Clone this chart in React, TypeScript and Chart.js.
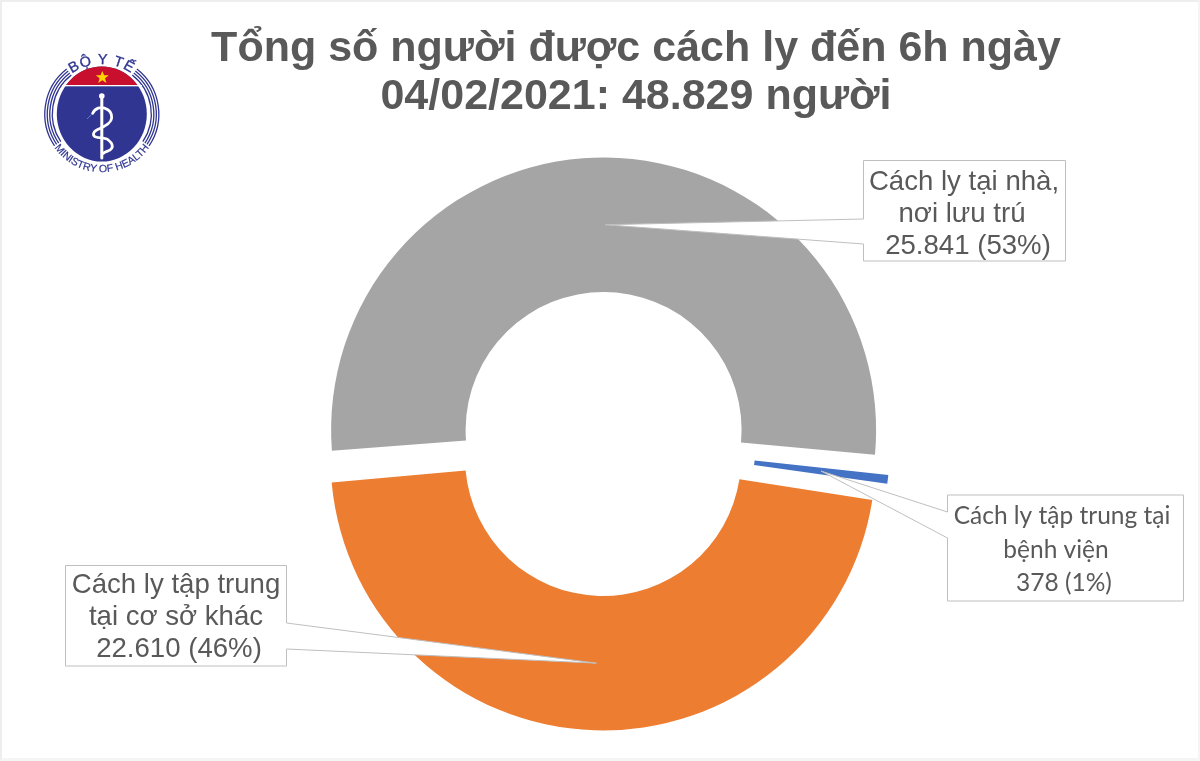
import React, { useEffect, useRef } from "react";
import { Chart, registerables } from "chart.js";

Chart.register(...registerables);

const categories = ["Cách ly tập trung tại bệnh viện", "Cách ly tập trung tại cơ sở khác", "Cách ly tại nhà, nơi lưu trú"];
const values = [378, 22610, 25841];
const sliceColors = ["#4472C4", "#ED7D31", "#A5A5A5"];
const titleLines = ["Tổng số người được cách ly đến 6h ngày", "04/02/2021: 48.829 người"];

const blueLines = ["Cách ly tập trung tại", "bệnh viện", "378 (1%)"];
const orangeLines = ["Cách ly tập trung", "tại cơ sở khác", "22.610 (46%)"];
const grayLines = ["Cách ly tại nhà,", "nơi lưu trú", "25.841 (53%)"];

const TEXT = "#595959";
// Chart.js moves an exploded arc by offset/4 and grows it by offset/4 times a
// factor that depends on the sweep; the layout radii below are the drawn ones.
const OFFSET = 56;
const SHIFT = OFFSET / 4;
const RADIUS = 272.5;
const HOLE = 138;

type Callout = {
  index: number; lines: string[]; font: string;
  box: [number, number, number, number];
  side: "left" | "right"; attach: [number, number];
  xs: number[]; ys: number[];
};

const callouts: Callout[] = [
  { index: 0, lines: blueLines, font: "24.5px Lato", box: [947.5, 495, 1183.5, 601], side: "left", attach: [512, 538],
    xs: [1062, 1056, 1064], ys: [524, 558, 591] },
  { index: 1, lines: orangeLines, font: "27.6px 'Liberation Sans'", box: [65.5, 565.5, 286.5, 666], side: "right", attach: [623, 649],
    xs: [176, 176, 179], ys: [593, 625, 657] },
  { index: 2, lines: grayLines, font: "27.6px 'Liberation Sans'", box: [863.5, 160.5, 1065.5, 261], side: "left", attach: [219, 244],
    xs: [964, 962, 968], ys: [190, 222, 254] },
];

const calloutPlugin = {
  id: "callouts",
  afterLayout(chart: any) {
    chart.titleBlock.left = 72;
    chart.titleBlock.right = 1200;
  },
  afterDatasetsUpdate(chart: any) {
    for (const arc of chart.getDatasetMeta(0).data) {
      const sweep = arc.endAngle - arc.startAngle;
      const growth = SHIFT * (1 - Math.sin(Math.min(Math.PI, sweep)));
      arc.outerRadius = RADIUS - growth;
      arc.innerRadius = HOLE - growth;
    }
  },
  afterDatasetsDraw(chart: any) {
    const ctx = chart.ctx;
    const arcs = chart.getDatasetMeta(0).data;
    for (const c of callouts) {
      const arc = arcs[c.index];
      const mid = (arc.startAngle + arc.endAngle) / 2;
      const r = (HOLE + RADIUS) / 2 + SHIFT;
      const tipX = arc.x + Math.cos(mid) * r;
      const tipY = arc.y + Math.sin(mid) * r;
      const [l, t, rt, b] = c.box;
      ctx.save();
      ctx.beginPath();
      ctx.moveTo(l, t);
      ctx.lineTo(rt, t);
      if (c.side === "right") {
        ctx.lineTo(rt, c.attach[0]);
        ctx.lineTo(tipX, tipY);
        ctx.lineTo(rt, c.attach[1]);
      }
      ctx.lineTo(rt, b);
      ctx.lineTo(l, b);
      if (c.side === "left") {
        ctx.lineTo(l, c.attach[1]);
        ctx.lineTo(tipX, tipY);
        ctx.lineTo(l, c.attach[0]);
      }
      ctx.closePath();
      ctx.fillStyle = "#FFFFFF";
      ctx.fill();
      ctx.strokeStyle = "#BFBFBF";
      ctx.lineWidth = 1;
      ctx.stroke();
      ctx.fillStyle = TEXT;
      ctx.font = c.font;
      ctx.textAlign = "center";
      ctx.textBaseline = "alphabetic";
      c.lines.forEach((line, i) => ctx.fillText(line, c.xs[i], c.ys[i]));
      ctx.restore();
    }
  },
};

function polar(r: number, deg: number) {
  const a = (deg * Math.PI) / 180;
  return `${101.8 + r * Math.cos(a)} ${114 + r * Math.sin(a)}`;
}

function Logo() {
  const navy = "#2F3590";
  const rings = [49.5, 52, 54.5, 57];
  return (
    <svg width={220} height={190} style={{ position: "absolute", left: 0, top: 0 }}>
      <defs>
        <path id="logoTop" d="M 56.8 90 A 52 52 0 0 1 146.8 90" fill="none" />
        <path id="logoBottom" d="M 45 126 A 58 58 0 0 0 158.6 126" fill="none" />
        <clipPath id="logoRed"><rect x="50" y="60" width="110" height="25.2" /></clipPath>
      </defs>
      {rings.map((r) => (
        <g key={r} fill="none" stroke={navy} strokeWidth={1.3}>
          <path d={`M ${polar(r, 146)} A ${r} ${r} 0 0 1 ${polar(r, 232)}`} />
          <path d={`M ${polar(r, 308)} A ${r} ${r} 0 0 1 ${polar(r, 394)}`} />
        </g>
      ))}
      <ellipse cx={101.8} cy={114} rx={45} ry={47.5} fill={navy} />
      <ellipse cx={101.8} cy={114} rx={45} ry={47.5} fill="#C8102E" clipPath="url(#logoRed)" />
      <rect x={62} y={85} width={80} height={1.3} fill="#FFFFFF" />
      <polygon points="102.3,71 104.1,75.3 108.8,75.3 105,78.3 106.4,83 102.3,80.2 98.2,83 99.6,78.3 95.8,75.3 100.5,75.3" fill="#FFD400" />
      <path d="M 101.8 97 L 101.8 158" stroke="#FFFFFF" strokeWidth={3} strokeLinecap="round" />
      <circle cx={101.8} cy={96} r={2.8} fill="#FFFFFF" />
      <path d="M 92.7 113.3 C 95 108 101 106.5 105 108.3 C 110 110 112 113 111.7 118 C 111.5 123 104 127 96.7 130 C 93 132 92.5 135 95 136.7 C 100 138.5 106 137.5 108.3 140 C 112 143 113 146 111.7 148.3 C 110 151.5 105 151 103.3 153.3" fill="none" stroke="#FFFFFF" strokeWidth={2.8} strokeLinecap="round" />
      <path d="M 92 114 L 87 119" stroke="#6C8FD8" strokeWidth={0.8} />
      <text fontFamily="'Liberation Sans'" fontSize={14.5} letterSpacing={1} fill={navy} stroke={navy} strokeWidth={0.35}>
        <textPath href="#logoTop" startOffset="50%" textAnchor="middle">BỘ Y TẾ</textPath>
      </text>
      <text fontFamily="'Liberation Sans'" fontSize={10.5} fill={navy} stroke={navy} strokeWidth={0.2}>
        <textPath href="#logoBottom" startOffset="50%" textAnchor="middle">MINISTRY OF HEALTH</textPath>
      </text>
    </svg>
  );
}

export default function App() {
  const ref = useRef<HTMLCanvasElement>(null);
  useEffect(() => {
    const chart = new Chart(ref.current!, {
      type: "doughnut",
      data: {
        labels: categories,
        datasets: [{
          data: values,
          backgroundColor: sliceColors,
          borderWidth: 0,
          offset: OFFSET,
          hoverOffset: OFFSET,
        }],
      },
      options: {
        responsive: false,
        animation: false,
        rotation: 95.7,
        radius: RADIUS,
        cutout: `${(HOLE / RADIUS) * 100}%`,
        layout: { padding: { left: 7 } },
        plugins: {
          legend: { display: false },
          tooltip: { enabled: false },
          title: {
            display: true,
            text: titleLines,
            color: TEXT,
            font: { family: "'Liberation Sans'", size: 43, weight: "bold", lineHeight: 48 / 43 },
            padding: { top: 25, bottom: 6 },
          },
        },
      },
      plugins: [calloutPlugin],
    } as any);
    return () => chart.destroy();
  }, []);
  return (
    <div style={{ position: "absolute", left: 0, top: 0, width: 1200, height: 761, background: "#FFFFFF", overflow: "hidden" }}>
      <canvas ref={ref} width={1200} height={761} style={{ display: "block", width: 1200, height: 761 }} />
      <Logo />
      <div style={{
        position: "absolute", inset: 0, pointerEvents: "none", boxSizing: "border-box",
        borderTop: "2px solid #EEEEEE", borderLeft: "2px solid #EEEEEE",
        borderRight: "2px solid #F5F5F5", borderBottom: "3px solid #F5F5F5",
      }} />
    </div>
  );
}
